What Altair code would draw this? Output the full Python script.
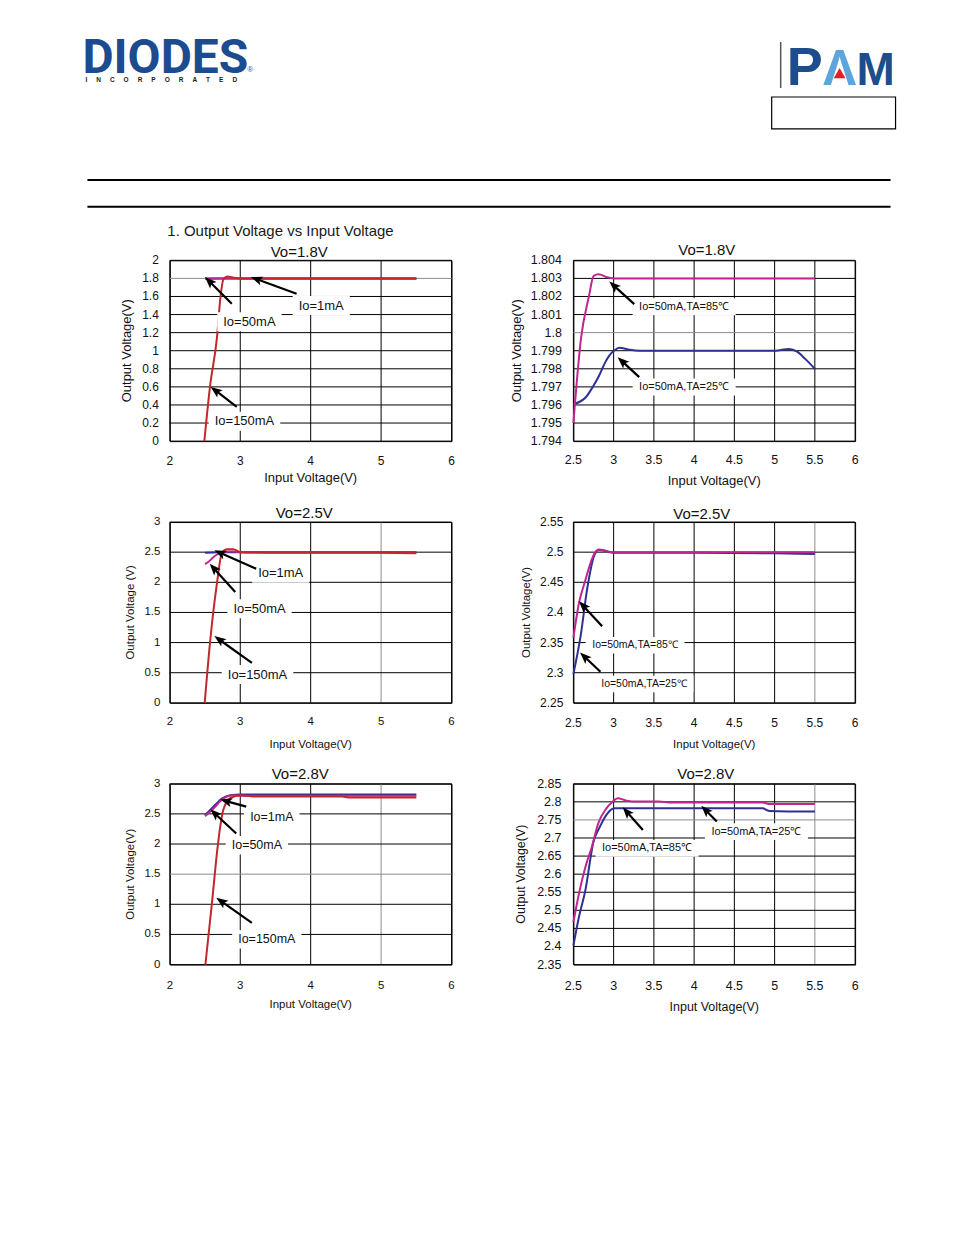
import math
import altair as alt
import pandas as pd

FONT = "Liberation Sans, Arial, Helvetica, sans-serif"
W, H = 282, 181
OX, OY = 169.5, 259.5          # page position of the top-left plot area
BLUE, MAG, RED = "#2e3192", "#c0268e", "#c1272d"
GRAY = "#8c8c8c"
ARROW = "M0,0L0.7,1.8L0,1.4L-0.7,1.8Z"

# ---------------- Panel A : Vo=1.8V, three load currents ----------------
A_xticks = [2, 3, 4, 5, 6]
A_yticks = [0, 0.2, 0.4, 0.6, 0.8, 1, 1.2, 1.4, 1.6, 1.8, 2]
A_1mA_x = [2.5, 3.0, 3.5, 4.0, 4.5, 5.0, 5.5]
A_1mA_y = [1.80, 1.80, 1.80, 1.80, 1.80, 1.80, 1.80]
A_50mA_x = [2.5, 2.7, 2.9, 3.5, 4.5, 5.5]
A_50mA_y = [1.795, 1.80, 1.80, 1.80, 1.80, 1.80]
A_150mA_x = [2.49, 2.57, 2.67, 2.72, 2.76, 2.82, 2.89, 3.0, 4.0, 5.0, 5.5]
A_150mA_y = [0.0, 0.60, 1.15, 1.60, 1.79, 1.82, 1.81, 1.80, 1.80, 1.80, 1.80]
A_labels = ["Io=1mA", "Io=50mA", "Io=150mA"]
A_lx = [4.15, 3.13, 3.06]
A_ly = [1.50, 1.32, 0.22]
A_tx = [3.80, 2.88, 2.95]
A_ty = [1.63, 1.52, 0.38]
A_hx = [3.15, 2.50, 2.58]
A_hy = [1.815, 1.815, 0.60]

# ---------------- Panel B : Vo=1.8V, temperature ----------------
B_xticks = [2.5, 3, 3.5, 4, 4.5, 5, 5.5, 6]
B_yticks = [1.794, 1.795, 1.796, 1.797, 1.798, 1.799, 1.8, 1.801, 1.802, 1.803, 1.804]
B_85_x = [2.5, 2.595, 2.69, 2.752, 2.814, 2.905, 3.0, 4.0, 5.0, 5.5]
B_85_y = [1.7950, 1.7997, 1.80194, 1.80314, 1.80323, 1.80308, 1.8030, 1.8030, 1.8030, 1.8030]
B_25_x = [2.5, 2.657, 2.74, 2.82, 2.897, 2.946, 3.008, 3.07, 3.19, 3.32, 4.0, 5.01, 5.18, 5.28, 5.38, 5.5]
B_25_y = [1.79604, 1.79644, 1.79699, 1.79763, 1.79837, 1.79873, 1.79901, 1.79916, 1.79906, 1.7990,
          1.7990, 1.7990, 1.79910, 1.79895, 1.79855, 1.79800]
B_labels = ["Io=50mA,TA=85℃", "Io=50mA,TA=25℃"]
B_lx = [3.876, 3.876]
B_ly = [1.80143, 1.79699]
B_tx = [3.256, 3.318]
B_ty = [1.80158, 1.79754]
B_hx = [2.946, 3.05]
B_hy = [1.80283, 1.79864]

# ---------------- Panel C : Vo=2.5V, three load currents ----------------
C_xticks = [2, 3, 4, 5, 6]
C_yticks = [0, 0.5, 1, 1.5, 2, 2.5, 3]
C_1mA_x = [2.5, 2.7, 3.0, 4.0, 5.0, 5.5]
C_1mA_y = [2.49, 2.50, 2.50, 2.50, 2.50, 2.50]
C_50mA_x = [2.5, 2.55, 2.62, 2.70, 2.80, 2.90, 3.0, 4.0, 5.5]
C_50mA_y = [2.30, 2.34, 2.42, 2.48, 2.51, 2.51, 2.50, 2.50, 2.50]
C_150mA_x = [2.495, 2.575, 2.67, 2.74, 2.81, 2.90, 3.0, 3.5, 4.0, 5.0, 5.5]
C_150mA_y = [0.0, 1.05, 1.99, 2.49, 2.55, 2.55, 2.50, 2.49, 2.49, 2.49, 2.48]
C_labels = ["Io=1mA", "Io=50mA", "Io=150mA"]
C_lx = [3.575, 3.274, 3.245]
C_ly = [2.148, 1.561, 0.47]
C_tx = [3.226, 2.929, 3.165]
C_ty = [2.225, 1.838, 0.664]
C_hx = [2.632, 2.566, 2.632]
C_hy = [2.53, 2.308, 1.107]

# ---------------- Panel D : Vo=2.5V, temperature ----------------
D_xticks = [2.5, 3, 3.5, 4, 4.5, 5, 5.5, 6]
D_yticks = [2.25, 2.3, 2.35, 2.4, 2.45, 2.5, 2.55]
D_85_x = [2.5, 2.57, 2.65, 2.71, 2.766, 2.816, 2.877, 2.96, 4.0, 5.5]
D_85_y = [2.358, 2.416, 2.454, 2.481, 2.499, 2.5045, 2.5034, 2.500, 2.500, 2.500]
D_25_x = [2.5, 2.59, 2.67, 2.754, 2.816, 2.90, 3.0, 4.0, 5.0, 5.5]
D_25_y = [2.298, 2.361, 2.438, 2.4925, 2.5034, 2.502, 2.499, 2.499, 2.498, 2.497]
D_labels = ["Io=50mA,TA=85℃", "Io=50mA,TA=25℃"]
D_lx = [3.266, 3.377]
D_ly = [2.3454, 2.2813]
D_tx = [2.857, 2.836]
D_ty = [2.3772, 2.3016]
D_hx = [2.570, 2.582]
D_hy = [2.4184, 2.3334]

# ---------------- Panel E : Vo=2.8V, three load currents ----------------
E_xticks = [2, 3, 4, 5, 6]
E_yticks = [0, 0.5, 1, 1.5, 2, 2.5, 3]
E_1mA_x = [2.5, 2.62, 2.74, 2.86, 3.0, 4.0, 5.5]
E_1mA_y = [2.48, 2.62, 2.755, 2.81, 2.82, 2.82, 2.82]
E_50mA_x = [2.5, 2.62, 2.76, 2.90, 3.0, 4.0, 5.5]
E_50mA_y = [2.46, 2.59, 2.755, 2.81, 2.80, 2.80, 2.80]
E_150mA_x = [2.505, 2.60, 2.67, 2.717, 2.76, 2.86, 3.0, 3.19, 4.0, 4.45, 4.55, 5.5]
E_150mA_y = [0.0, 1.04, 1.86, 2.30, 2.57, 2.76, 2.81, 2.79, 2.79, 2.79, 2.77, 2.77]
E_labels = ["Io=1mA", "Io=50mA", "Io=150mA"]
E_lx = [3.448, 3.236, 3.377]
E_ly = [2.446, 1.978, 0.418]
E_tx = [3.085, 2.943, 3.165]
E_ty = [2.62, 2.174, 0.69]
E_hx = [2.717, 2.575, 2.66]
E_hy = [2.739, 2.576, 1.109]

# ---------------- Panel F : Vo=2.8V, temperature ----------------
F_xticks = [2.5, 3, 3.5, 4, 4.5, 5, 5.5, 6]
F_yticks = [2.35, 2.4, 2.45, 2.5, 2.55, 2.6, 2.65, 2.7, 2.75, 2.8, 2.85]
F_85_x = [2.5, 2.569, 2.649, 2.73, 2.81, 2.91, 2.99, 3.05, 3.15, 3.23, 3.556, 3.72, 4.85, 4.93, 5.5]
F_85_y = [2.4676, 2.546, 2.62, 2.676, 2.741, 2.782, 2.801, 2.810, 2.804, 2.801, 2.801, 2.798, 2.798, 2.794, 2.794]
F_25_x = [2.5, 2.569, 2.649, 2.75, 2.83, 2.91, 3.01, 4.0, 4.85, 4.93, 5.5]
F_25_y = [2.403, 2.4815, 2.5556, 2.69, 2.7315, 2.764, 2.782, 2.782, 2.782, 2.775, 2.773]
F_labels = ["Io=50mA,TA=85℃", "Io=50mA,TA=25℃"]
F_lx = [3.415, 4.774]
F_ly = [2.6713, 2.7176]
F_tx = [3.363, 4.282]
F_ty = [2.7222, 2.7454]
F_hx = [3.113, 4.089]
F_hy = [2.7852, 2.7889]

PANELS = [
    dict(title="Vo=1.8V", xdom=[2, 6], ydom=[0, 2], xt=A_xticks, yt=A_yticks,
         series=[(A_1mA_x, A_1mA_y, BLUE), (A_50mA_x, A_50mA_y, MAG), (A_150mA_x, A_150mA_y, RED)],
         ann=(A_labels, A_lx, A_ly, A_tx, A_ty, A_hx, A_hy), ytitle="Output Voltage(V)",
         gray_x=[], gray_y=[1.8], lab=12, tit=13, xlp=20, xty=37, ylp=11, ytx=-43, pt=(129.5, -8), af=13),
    dict(title="Vo=1.8V", xdom=[2.5, 6], ydom=[1.794, 1.804], xt=B_xticks, yt=B_yticks,
         series=[(B_25_x, B_25_y, BLUE), (B_85_x, B_85_y, MAG)],
         ann=(B_labels, B_lx, B_ly, B_tx, B_ty, B_hx, B_hy), ytitle="Output Voltage(V)",
         gray_x=[], gray_y=[1.8], lab=12.5, tit=13, xlp=18.5, xty=40, ylp=11.5, ytx=-56, pt=(133.5, -10), af=11),
    dict(title="Vo=2.5V", xdom=[2, 6], ydom=[0, 3], xt=C_xticks, yt=C_yticks,
         series=[(C_1mA_x, C_1mA_y, BLUE), (C_50mA_x, C_50mA_y, MAG), (C_150mA_x, C_150mA_y, RED)],
         ann=(C_labels, C_lx, C_ly, C_tx, C_ty, C_hx, C_hy), ytitle="Output Voltage (V)",
         gray_x=[5], gray_y=[], lab=11.5, tit=11.5, xlp=19, xty=42.5, ylp=9.5, ytx=-39, pt=(134.5, -9), af=13),
    dict(title="Vo=2.5V", xdom=[2.5, 6], ydom=[2.25, 2.55], xt=D_xticks, yt=D_yticks,
         series=[(D_25_x, D_25_y, BLUE), (D_85_x, D_85_y, MAG)],
         ann=(D_labels, D_lx, D_ly, D_tx, D_ty, D_hx, D_hy), ytitle="Output Voltage(V)",
         gray_x=[5.5], gray_y=[], lab=12, tit=11.5, xlp=20.5, xty=42, ylp=10, ytx=-46, pt=(128.5, -8), af=10.5),
    dict(title="Vo=2.8V", xdom=[2, 6], ydom=[0, 3], xt=E_xticks, yt=E_yticks,
         series=[(E_1mA_x, E_1mA_y, BLUE), (E_50mA_x, E_50mA_y, MAG), (E_150mA_x, E_150mA_y, RED)],
         ann=(E_labels, E_lx, E_ly, E_tx, E_ty, E_hx, E_hy), ytitle="Output Voltage(V)",
         gray_x=[5], gray_y=[1.5], lab=11.5, tit=11.5, xlp=21, xty=40.5, ylp=9.5, ytx=-39, pt=(130.5, -9.5), af=12.5),
    dict(title="Vo=2.8V", xdom=[2.5, 6], ydom=[2.35, 2.85], xt=F_xticks, yt=F_yticks,
         series=[(F_25_x, F_25_y, BLUE), (F_85_x, F_85_y, MAG)],
         ann=(F_labels, F_lx, F_ly, F_tx, F_ty, F_hx, F_hy), ytitle="Output Voltage(V)",
         gray_x=[5.5], gray_y=[2.75], lab=12.5, tit=12.5, xlp=21.5, xty=42, ylp=12, ytx=-52, pt=(132.5, -9.5), af=11),
]

ONE = pd.DataFrame({"k": [0]})
NB = "\u00a0" * 5
# approximate advance widths (em) used to size the white boxes behind the labels
CHAR_W = {"I": .278, "o": .556, "=": .584, "1": .556, "m": .833, "A": .667, "5": .556, "0": .556,
          ",": .278, "T": .611, "8": .556, "2": .556, "℃": 1.0}


def vtext(text, x, y, size, color="black", weight="normal", align="left", baseline="alphabetic", font=FONT):
    return alt.Chart(ONE).mark_text(text=text, fontSize=size, font=font, fontWeight=weight, color=color,
                                    align=align, baseline=baseline).encode(
        x=alt.value(x - OX), y=alt.value(y - OY))


def header_layers():
    L = []
    # invisible page frame: fixes where the whole drawing sits on the page
    L.append(alt.Chart(ONE).mark_rect(opacity=0).encode(
        x=alt.value(8 - OX), x2=alt.value(946 - OX), y=alt.value(8 - OY), y2=alt.value(1100 - OY)))
    # DIODES logo
    L.append(vtext("DIODES", 82, 72, 48, color="#1c4b8f", weight="bold", font="Roboto, Liberation Sans"))
    L.append(vtext(NB.join("INCORPORATED"), 85, 81, 6.5, color="#1a1a1a", weight="bold"))
    L.append(vtext("®", 247, 71, 8, color="#1c4b8f"))
    # PAM logo
    L.append(alt.Chart(ONE).mark_rule(color="#555555", strokeWidth=1.5).encode(
        x=alt.value(781 - OX), y=alt.value(41 - OY), y2=alt.value(87 - OY)))
    L.append(vtext("P", 805, 84, 54, color="#1d4d8b", weight="bold", align="center"))
    L.append(vtext("Λ", 840, 84, 50, color="#5ea5dc", weight="bold", align="center"))
    L.append(vtext("M", 876, 84, 46, color="#1d4d8b", weight="bold", align="center"))
    L.append(alt.Chart(ONE).mark_point(shape="triangle-up", filled=True, color="#e31e24", opacity=1,
                                       size=140).encode(x=alt.value(840 - OX), y=alt.value(72 - OY)))
    # empty box at the right
    L.append(alt.Chart(ONE).mark_rect(fill="white", stroke="black", strokeWidth=1.2).encode(
        x=alt.value(772 - OX), x2=alt.value(896 - OX), y=alt.value(96 - OY), y2=alt.value(128 - OY)))
    # two horizontal rules
    for yy in (179, 206):
        L.append(alt.Chart(ONE).mark_rule(color="black", strokeWidth=2).encode(
            x=alt.value(87 - OX), x2=alt.value(891 - OX), y=alt.value(yy - OY)))
    # section heading
    L.append(vtext("1. Output Voltage vs Input Voltage", 167, 230, 15, color="#1a1a1a", baseline="middle"))
    return L


def build_panel(p, extra=None):
    xd, yd = p["xdom"], p["ydom"]
    xs = alt.Scale(domain=xd, nice=False, zero=False)
    ys = alt.Scale(domain=yd, nice=False, zero=False)
    X = lambda f: alt.X(f, scale=xs, axis=None)
    Y = lambda f: alt.Y(f, scale=ys, axis=None)
    layers = list(extra or [])

    # grid lines and tick labels, drawn through the panel's scales
    xg = pd.DataFrame({"v": p["xt"], "c": [GRAY if v in p["gray_x"] else "black" for v in p["xt"]]})
    yg = pd.DataFrame({"v": p["yt"], "c": [GRAY if v in p["gray_y"] else "black" for v in p["yt"]]})
    layers.append(alt.Chart(xg).mark_rule(strokeWidth=1).encode(
        x=X("v:Q"), y=alt.value(0), y2=alt.value(H), color=alt.Color("c:N", scale=None)))
    layers.append(alt.Chart(yg).mark_rule(strokeWidth=1).encode(
        y=Y("v:Q"), x=alt.value(0), x2=alt.value(W), color=alt.Color("c:N", scale=None)))
    layers.append(alt.Chart(xg).mark_text(font=FONT, fontSize=p["lab"], color="#111111", align="center",
                                          baseline="middle").encode(
        x=X("v:Q"), y=alt.value(H + p["xlp"]), text=alt.Text("v:Q", format="~g")))
    layers.append(alt.Chart(yg).mark_text(font=FONT, fontSize=p["lab"], color="#111111", align="right",
                                          baseline="middle").encode(
        y=Y("v:Q"), x=alt.value(-p["ylp"]), text=alt.Text("v:Q", format="~g")))
    # axis titles
    layers.append(alt.Chart(ONE).mark_text(text="Input Voltage(V)", font=FONT, fontSize=p["tit"], color="#111111",
                                           align="center", baseline="middle").encode(
        x=alt.value(W / 2), y=alt.value(H + p["xty"])))
    layers.append(alt.Chart(ONE).mark_text(text=p["ytitle"], font=FONT, fontSize=p["tit"], color="#111111",
                                           align="center", baseline="middle", angle=270).encode(
        x=alt.value(p["ytx"]), y=alt.value(H / 2)))

    # curves
    for sx, sy, col in p["series"]:
        df = pd.DataFrame({"x": sx, "y": sy})
        layers.append(alt.Chart(df).mark_line(color=col, strokeWidth=2, interpolate="monotone").encode(
            x=X("x:Q"), y=Y("y:Q")))

    # annotations with arrows
    lab, lx, ly, tx, ty, hx, hy = p["ann"]
    spx = W / (xd[1] - xd[0])
    spy = H / (yd[1] - yd[0])
    rows = []
    for i in range(len(lab)):
        dx = (hx[i] - tx[i]) * spx
        dy = -(hy[i] - ty[i]) * spy
        ln = math.hypot(dx, dy)
        f = 8.0 / ln
        hw = sum(CHAR_W.get(ch, .556) for ch in lab[i]) * p["af"] / 2 + 6
        hh = p["af"] / 2 + 3
        rows.append(dict(label=lab[i], lx=lx[i], ly=ly[i], tx=tx[i], ty=ty[i], hx=hx[i], hy=hy[i],
                         ex=hx[i] - (hx[i] - tx[i]) * f, ey=hy[i] - (hy[i] - ty[i]) * f,
                         ang=math.degrees(math.atan2(dx, -dy)) % 360,
                         bx1=lx[i] - hw / spx, bx2=lx[i] + hw / spx, by1=ly[i] - hh / spy, by2=ly[i] + hh / spy))
    base = alt.Chart(pd.DataFrame(rows))
    layers.append(base.mark_rect(fill="white").encode(x=X("bx1:Q"), x2="bx2:Q", y=Y("by1:Q"), y2="by2:Q"))
    layers.append(base.mark_rule(color="black", strokeWidth=2.2).encode(
        x=X("tx:Q"), y=Y("ty:Q"), x2="ex:Q", y2="ey:Q"))
    layers.append(base.mark_point(shape=ARROW, filled=True, color="black", opacity=1, size=169).encode(
        x=X("hx:Q"), y=Y("hy:Q"), angle=alt.Angle("ang:Q", scale=None)))
    layers.append(base.mark_text(font=FONT, fontSize=p["af"], color="#111111").encode(
        x=X("lx:Q"), y=Y("ly:Q"), text="label:N"))
    # panel title
    layers.append(alt.Chart(ONE).mark_text(text=p["title"], font=FONT, fontSize=15, color="#111111",
                                           baseline="middle", align="center").encode(
        x=alt.value(p["pt"][0]), y=alt.value(p["pt"][1])))
    return alt.layer(*layers).properties(width=W, height=H)


panels = [build_panel(PANELS[0], header_layers())] + [build_panel(p) for p in PANELS[1:]]

chart = alt.concat(*panels, columns=2, spacing={"row": 81, "column": 122}, bounds="flush").properties(
    padding=0, background="white", autosize=alt.AutoSizeParams(type="pad")
).configure_view(stroke="black", strokeWidth=1)

chart.save("out.html", embed_options={"renderer": "svg", "actions": False})
